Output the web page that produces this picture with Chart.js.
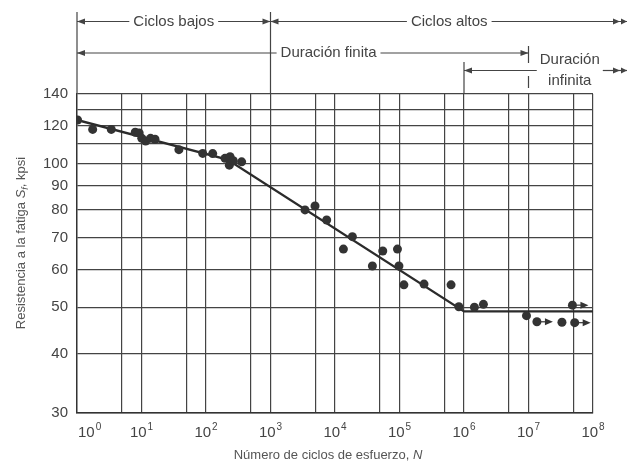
<!DOCTYPE html>
<html>
<head>
<meta charset="utf-8">
<script src="https://cdn.jsdelivr.net/npm/chart.js@4.4.1/dist/chart.umd.min.js"></script>
<style>
  html, body { margin: 0; padding: 0; background: #fff; }
</style>
</head>
<body>
<canvas id="snChart" width="628" height="466"></canvas>
<script>
// Specimens that failed: cycles N and fatigue strength Sf (kpsi)
const failN = [1.02, 1.75, 3.4, 8, 9.2, 10.1, 11.6, 13.8, 16.2, 38, 89, 127, 197, 236, 230, 265, 357,
               3430, 4900, 7430, 13500, 18600, 38000, 55000, 93000, 98000, 117000, 240000, 630000,
               832000, 1450000, 2000000, 9300000, 33000000];
const failS = [123.5, 118, 118, 116.4, 116, 113, 111.6, 113, 112.5, 107, 105.1, 105, 102.6, 103.4, 99.3, 101.4, 100.9,
               80, 81.5, 76.2, 66.2, 70.3, 61, 65.6, 66.2, 61, 55.7, 55.9, 55.7,
               50.1, 50, 50.7, 48, 46.5];

// Run-outs (no failure), drawn with an arrow
const runoutN = [13500000, 48000000, 52000000];
const runoutS = [46.6, 50.5, 46.4];

// Fitted S-N curve
const curveN = [1, 215, 1000000, 100000000];
const curveS = [123.5, 102, 49, 49];

// Axis ticks
const xGridValues = [1, 5, 10, 50, 100, 500, 1e3, 5e3, 1e4, 5e4, 1e5, 5e5, 1e6, 5e6, 1e7, 5e7, 1e8];
const xDecades = [0, 1, 2, 3, 4, 5, 6, 7, 8];
const yGridValues = [30, 40, 50, 60, 70, 80, 90, 100, 110, 120, 130, 140];
const yTickLabels = [30, 40, 50, 60, 70, 80, 90, 100, 120, 140];

const FONT = "'Liberation Sans', Arial, sans-serif";
const INK = '#444';

function seg(ctx, x1, y1, x2, y2) {
  ctx.beginPath();
  ctx.moveTo(x1, y1);
  ctx.lineTo(x2, y2);
  ctx.stroke();
}

function head(ctx, tip, yy, dir, len = 8, half = 3) {
  ctx.beginPath();
  ctx.moveTo(tip, yy);
  ctx.lineTo(tip - dir * len, yy - half);
  ctx.lineTo(tip - dir * len, yy + half);
  ctx.closePath();
  ctx.fill();
}

// line broken around a centred text
function span(ctx, x1, x2, yy, text, cx) {
  const tw = ctx.measureText(text).width;
  seg(ctx, x1, yy, cx - tw / 2 - 4, yy);
  seg(ctx, cx + tw / 2 + 4, yy, x2, yy);
  ctx.fillText(text, cx, yy);
}

// mixed-style text pieces, centred on cx
function pieces(ctx, parts, cx, base) {
  let total = 0;
  parts.forEach(p => { ctx.font = p.f; p.w = ctx.measureText(p.t).width; total += p.w; });
  let xx = cx - total / 2;
  ctx.textAlign = 'left';
  ctx.textBaseline = 'alphabetic';
  parts.forEach(p => {
    ctx.font = p.f;
    ctx.fillText(p.t, xx, base + (p.dy || 0));
    xx += p.w;
  });
}

const annotations = {
  id: 'annotations',
  afterDraw(chart) {
    const { ctx, chartArea: area, scales: { x, y } } = chart;
    const W = chart.width;
    const px = v => x.getPixelForValue(v);

    ctx.save();
    ctx.strokeStyle = INK;
    ctx.fillStyle = INK;
    ctx.lineWidth = 1.2;
    ctx.font = `15px ${FONT}`;
    ctx.textAlign = 'center';
    ctx.textBaseline = 'middle';

    // regime boundaries
    seg(ctx, px(1), 12, px(1), area.top);
    seg(ctx, px(1e3), 12, px(1e3), area.top);
    seg(ctx, px(1e6), 62, px(1e6), area.top);
    seg(ctx, px(1e7), 46, px(1e7), 63);
    seg(ctx, px(1e7), 76, px(1e7), 88);

    // Ciclos bajos / altos
    const r1 = 21.5;
    span(ctx, px(1), px(1e3), r1, 'Ciclos bajos', (px(1) + px(1e3)) / 2);
    head(ctx, px(1), r1, -1);
    head(ctx, px(1e3), r1, 1);
    span(ctx, px(1e3), W - 1, r1, 'Ciclos altos', (px(1e3) + W) / 2);
    head(ctx, px(1e3), r1, -1);
    head(ctx, W - 8, r1, 1, 7, 3);
    head(ctx, W - 1, r1, 1, 6, 3);

    // Duración finita
    const r2 = 53;
    span(ctx, px(1), px(1e7), r2, 'Duración finita', px(Math.pow(10, 3.9)));
    head(ctx, px(1), r2, -1);
    head(ctx, px(1e7), r2, 1);

    // Duración infinita
    const r3 = 70.5;
    const cx3 = px(Math.pow(10, 7.64));
    const tw3 = ctx.measureText('Duración').width;
    seg(ctx, px(1e6), r3, cx3 - tw3 / 2 - 3, r3);
    seg(ctx, cx3 + tw3 / 2 + 3, r3, W - 1, r3);
    head(ctx, px(1e6), r3, -1);
    head(ctx, W - 8, r3, 1, 7, 3);
    head(ctx, W - 1, r3, 1, 6, 3);
    ctx.fillText('Duración', cx3, 60);
    ctx.fillText('infinita', cx3, 81);

    // run-out arrows
    ctx.strokeStyle = '#333';
    ctx.fillStyle = '#333';
    runoutN.forEach((n, i) => {
      const cx = px(n), cy = y.getPixelForValue(runoutS[i]);
      seg(ctx, cx + 4, cy, cx + 9, cy);
      head(ctx, cx + 16, cy, 1, 8, 3.5);
    });

    // x tick labels 10^n
    ctx.fillStyle = INK;
    ctx.textAlign = 'left';
    ctx.textBaseline = 'alphabetic';
    xDecades.forEach(d => {
      const p = px(Math.pow(10, d));
      ctx.font = `15px ${FONT}`;
      const wb = ctx.measureText('10').width;
      ctx.font = `10px ${FONT}`;
      const we = ctx.measureText(String(d)).width;
      const total = wb + we + 1;
      const left = d === 0 ? area.left + 1 : p - total / 2;
      ctx.font = `15px ${FONT}`;
      ctx.fillText('10', left, 437);
      ctx.font = `10px ${FONT}`;
      ctx.fillText(String(d), left + wb + 1, 430);
    });

    // axis titles
    ctx.fillStyle = '#555';
    pieces(ctx, [
      { t: 'Número de ciclos de esfuerzo, ', f: `13px ${FONT}` },
      { t: 'N', f: `italic 13px ${FONT}` }
    ], 328, 459);

    ctx.translate(20, 243);
    ctx.rotate(-Math.PI / 2);
    pieces(ctx, [
      { t: 'Resistencia a la fatiga ', f: `13px ${FONT}` },
      { t: 'S', f: `italic 13px ${FONT}` },
      { t: 'f', f: `italic 9px ${FONT}`, dy: 3 },
      { t: ', kpsi', f: `13px ${FONT}` }
    ], 0, 4.5);

    ctx.restore();
  }
};

const allN = failN.concat(runoutN);
const allS = failS.concat(runoutS);

new Chart(document.getElementById('snChart'), {
  type: 'scatter',
  data: {
    datasets: [
      {
        data: allN.map((n, i) => ({ x: n, y: allS[i] })),
        pointRadius: 4.5,
        pointBackgroundColor: '#333',
        pointBorderWidth: 0,
        order: 1
      },
      {
        type: 'line',
        data: curveN.map((n, i) => ({ x: n, y: curveS[i] })),
        borderColor: '#2b2b2b',
        borderWidth: 2.4,
        pointRadius: 0,
        fill: false,
        order: 2
      }
    ]
  },
  options: {
    responsive: false,
    animation: false,
    layout: { padding: { top: 94, right: 35, left: 0, bottom: 0 } },
    plugins: { legend: { display: false }, tooltip: { enabled: false } },
    scales: {
      x: {
        type: 'logarithmic',
        min: 1,
        max: 1e8,
        afterBuildTicks: s => { s.ticks = xGridValues.map(v => ({ value: v })); },
        afterFit: s => { s.height = 53; },
        ticks: { display: false },
        grid: { color: '#444', lineWidth: 1.2, drawTicks: false },
        border: { color: '#333', width: 1.4 }
      },
      y: {
        type: 'logarithmic',
        min: 30,
        max: 140,
        afterBuildTicks: s => { s.ticks = yGridValues.map(v => ({ value: v })); },
        afterFit: s => { s.width = 77; },
        ticks: {
          autoSkip: false,
          padding: 9,
          color: INK,
          font: { family: FONT, size: 15 },
          callback: v => yTickLabels.includes(v) ? String(v) : ''
        },
        grid: { color: '#444', lineWidth: 1.2, drawTicks: false },
        border: { color: '#333', width: 1.4 }
      }
    }
  },
  plugins: [annotations]
});
</script>
</body>
</html>
